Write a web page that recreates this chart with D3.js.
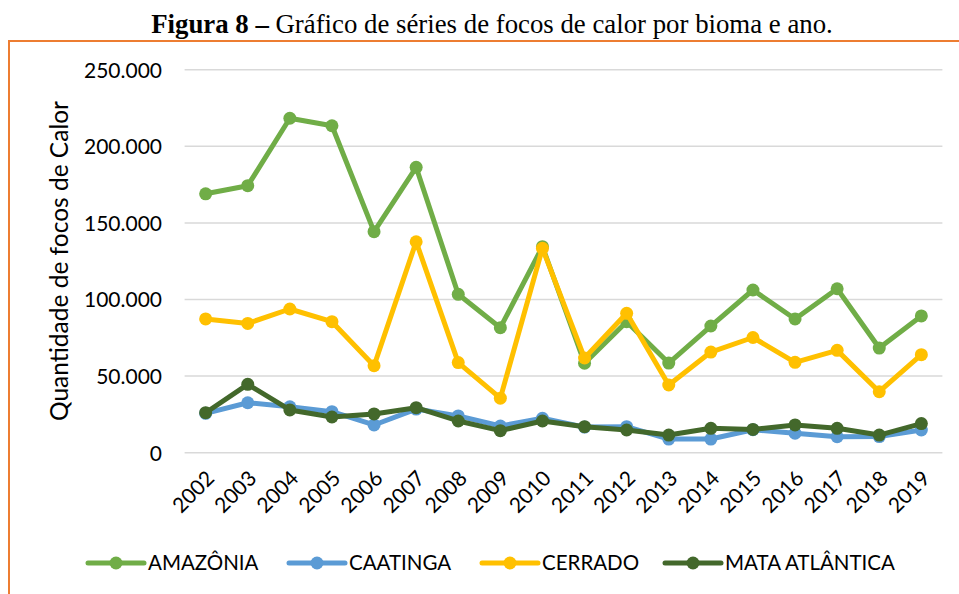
<!DOCTYPE html>
<html><head><meta charset="utf-8">
<script src="https://cdn.jsdelivr.net/npm/d3@7"></script>
<style>body{margin:0;background:#fff}svg{display:block}</style>
</head><body>
<svg id="c" width="959" height="594"></svg>
<script>
const years = ["2002","2003","2004","2005","2006","2007","2008","2009","2010","2011","2012","2013","2014","2015","2016","2017","2018","2019"];
const amazonia = [169000,174300,218300,213400,144300,186300,103400,81600,134500,58400,85500,58500,82700,106200,87300,107000,68300,89300];
const caatinga = [25700,32600,30000,26800,18100,28500,24000,17400,22500,16700,17000,8900,8900,15000,12700,10400,10500,14800];
const cerrado = [87300,84400,93800,85500,56800,137700,58800,35600,133400,61800,91000,44200,65700,75200,59000,66800,39800,64000];
const mata = [26100,44600,27900,23300,25300,29400,20700,14400,20700,17000,14800,11500,15900,15200,18100,15900,11500,19000];
const seriesNames = ["AMAZÔNIA","CAATINGA","CERRADO","MATA ATLÂNTICA"];
const yTicks = [0,50000,100000,150000,200000,250000];

const colors = ["#70AD47","#5B9BD5","#FFC000","#43682B"];
const seriesData = [amazonia, caatinga, cerrado, mata];
const svg = d3.select("#c");
const font = "Lato, 'Open Sans', sans-serif";

// frame
svg.append("rect").attr("x",9).attr("y",41).attr("width",960).attr("height",600)
  .attr("fill","none").attr("stroke","#ED7D31").attr("stroke-width",2);

// title
const t = svg.append("text").attr("x",492).attr("y",33).attr("text-anchor","middle")
  .attr("font-family","'Liberation Serif','Times New Roman',serif").attr("font-size",26.8).attr("fill","#000");
t.append("tspan").attr("font-weight","bold").text("Figura 8 –");
t.append("tspan").text(" Gráfico de séries de focos de calor por bioma e ano.");

const x = d3.scaleBand().domain(years).range([184.6, 942.4]);
const y = d3.scaleLinear().domain([0,250000]).range([452.7, 69.7]);
const fmt = v => d3.format(",")(v).replace(/,/g,".");

// gridlines
svg.append("g").selectAll("line").data(yTicks).join("line")
  .attr("x1",184.6).attr("x2",942.4).attr("y1",d=>y(d)).attr("y2",d=>y(d))
  .attr("stroke","#D9D9D9").attr("stroke-width",1.5);

// y axis labels
const yAxis = d3.axisLeft(y).tickValues(yTicks).tickFormat(fmt).tickSize(0).tickPadding(0);
const gy = svg.append("g").attr("transform","translate(162,0)").call(yAxis);
gy.select(".domain").remove();
gy.selectAll("text").attr("font-family",font).attr("font-size",21).attr("fill","#000").attr("dy","0.35em");

// x axis labels
const xAxis = d3.axisBottom(x).tickSize(0).tickPadding(0);
const gx = svg.append("g").attr("transform","translate(0,452.7)").call(xAxis);
gx.select(".domain").remove();
gx.selectAll("text").attr("font-family",font).attr("font-size",21).attr("fill","#000")
  .attr("text-anchor","end").attr("dy",null).attr("y",0)
  .attr("transform","translate(10,27) rotate(-45)");

// axis title
svg.append("text").attr("transform","translate(68,261) rotate(-90)").attr("text-anchor","middle")
  .attr("font-family",font).attr("font-size",24.5).attr("fill","#000").text("Quantidade de focos de Calor");

// series
const line = d3.line().x((d,i)=>x(years[i])+x.bandwidth()/2).y(d=>y(d));
seriesData.forEach((s,k)=>{
  const g = svg.append("g");
  g.append("path").datum(s).attr("d",line).attr("fill","none").attr("stroke",colors[k])
    .attr("stroke-width",5).attr("stroke-linejoin","round").attr("stroke-linecap","round");
  g.selectAll("circle").data(s).join("circle")
    .attr("cx",(d,i)=>x(years[i])+x.bandwidth()/2).attr("cy",d=>y(d)).attr("r",6.5).attr("fill",colors[k]);
});

// legend
const legX = [88,289,482,665];
seriesNames.forEach((n,k)=>{
  const g = svg.append("g").attr("transform",`translate(${legX[k]},563)`);
  g.append("line").attr("x1",0).attr("x2",56).attr("y1",0).attr("y2",0).attr("stroke",colors[k]).attr("stroke-width",5).attr("stroke-linecap","round");
  g.append("circle").attr("cx",28).attr("cy",0).attr("r",6.5).attr("fill",colors[k]);
  g.append("text").attr("x",60).attr("y",0).attr("dy","0.35em").attr("font-family",font).attr("font-size",20.5).attr("fill","#000").text(n);
});
</script>
</body></html>
